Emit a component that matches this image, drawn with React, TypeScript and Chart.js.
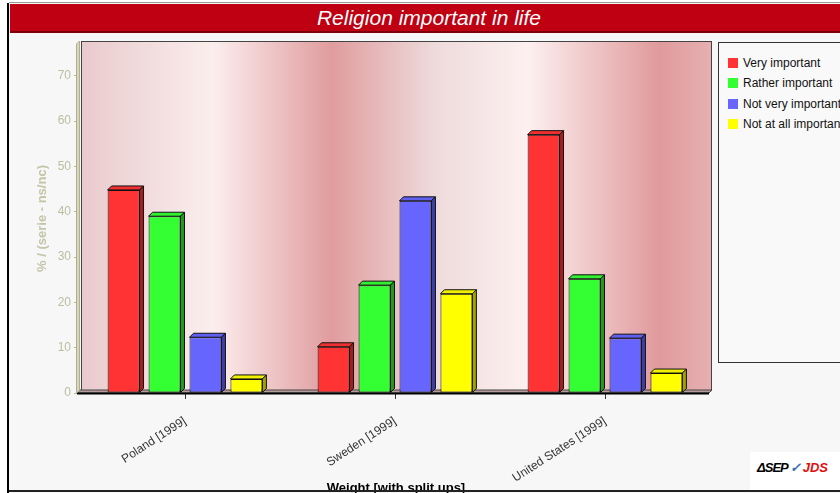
import React, { useEffect, useRef } from 'react';
import { Chart, registerables } from 'chart.js';

Chart.register(...registerables);

const categories = ['Poland [1999]', 'Sweden [1999]', 'United States [1999]'];
const seriesNames = ['Very important', 'Rather important', 'Not very important', 'Not at all important'];
const veryImportant = [44.8, 10.2, 57.0];
const ratherImportant = [39.0, 23.8, 25.2];
const notVeryImportant = [12.3, 42.4, 12.1];
const notAtAllImportant = [3.1, 21.9, 4.4];
const yMax = 77;
const yStep = 10;

const chartTitle = 'Religion important in life';
const yTitle = '% / (serie - ns/nc)';
const xTitle = 'Weight [with split ups]';

const faceColors = ['#FF3333', '#33FF33', '#6666FF', '#FFFF00'];
const sideColors = ['#A31E1E', '#1E9C1E', '#3E3EA6', '#A3A300'];
const topColors = ['#F03030', '#30F030', '#6060F0', '#F0F000'];

const FONT = '"Liberation Sans", Arial, Helvetica, sans-serif';

export default function App() {
  const ref = useRef<HTMLCanvasElement>(null);

  useEffect(() => {
    const canvas = ref.current!;
    const depth = 4;

    const backdrop = {
      id: 'backdrop',
      beforeDatasetsDraw(chart: any) {
        const { ctx, chartArea: a } = chart;
        ctx.save();
        const wl = a.left + 1, wr = a.right + 2, wt = a.top - 3, wb = a.bottom - 3;
        const g = ctx.createLinearGradient(wl, 0, wr, 0);
        g.addColorStop(0, '#EACACC');
        g.addColorStop(0.08, '#EFD8D9');
        g.addColorStop(0.21, '#FCEEEE');
        g.addColorStop(0.397, '#E09C9E');
        g.addColorStop(0.559, '#EEDADB');
        g.addColorStop(0.708, '#FDF0F0');
        g.addColorStop(0.916, '#E09A9C');
        g.addColorStop(1, '#E6B0B2');
        ctx.fillStyle = g;
        ctx.fillRect(wl, wt, wr - wl, wb - wt);
        ctx.strokeStyle = '#444';
        ctx.lineWidth = 1;
        ctx.strokeRect(wl + 0.5, wt + 0.5, wr - wl - 1, wb - wt);
        // floor
        ctx.beginPath();
        ctx.moveTo(a.left - 3, a.bottom);
        ctx.lineTo(a.left, a.bottom - 3);
        ctx.lineTo(a.right + 2, a.bottom - 3);
        ctx.lineTo(a.right - 1, a.bottom);
        ctx.closePath();
        ctx.fillStyle = '#B89C9C';
        ctx.fill();
        ctx.strokeStyle = '#444';
        ctx.stroke();
        ctx.beginPath();
        ctx.moveTo(a.left - 3, a.bottom + 0.5);
        ctx.lineTo(a.right - 1, a.bottom + 0.5);
        ctx.strokeStyle = '#000';
        ctx.lineWidth = 2;
        ctx.stroke();
        // y axis wall
        ctx.beginPath();
        ctx.moveTo(a.left - 3, a.bottom);
        ctx.lineTo(a.left - 3, a.top);
        ctx.lineTo(a.left, a.top - 3);
        ctx.lineTo(a.left, a.bottom - 3);
        ctx.closePath();
        ctx.fillStyle = '#D6D6BE';
        ctx.fill();
        ctx.strokeStyle = '#AFAF8C';
        ctx.lineWidth = 1;
        ctx.beginPath();
        ctx.moveTo(a.left - 3.5, a.bottom);
        ctx.lineTo(a.left - 3.5, a.top);
        ctx.lineTo(a.left - 0.5, a.top - 3);
        ctx.lineTo(a.left - 0.5, a.bottom - 3);
        ctx.stroke();
        ctx.restore();
      },
      afterDatasetsDraw(chart: any) {
        const { ctx } = chart;
        ctx.save();
        ctx.lineWidth = 1;
        ctx.strokeStyle = '#111';
        chart.data.datasets.forEach((ds: any, i: number) => {
          const meta = chart.getDatasetMeta(i);
          meta.data.forEach((bar: any) => {
            const { x, y, base, width } = bar.getProps(['x', 'y', 'base', 'width'], true);
            const l = x - width / 2, r = x + width / 2;
            ctx.beginPath();
            ctx.moveTo(l, y);
            ctx.lineTo(l + depth, y - depth);
            ctx.lineTo(r + depth, y - depth);
            ctx.lineTo(r, y);
            ctx.closePath();
            ctx.fillStyle = topColors[i];
            ctx.fill();
            ctx.stroke();
            ctx.beginPath();
            ctx.moveTo(r, y);
            ctx.lineTo(r + depth, y - depth);
            ctx.lineTo(r + depth, base - depth);
            ctx.lineTo(r, base);
            ctx.closePath();
            ctx.fillStyle = sideColors[i];
            ctx.fill();
            ctx.stroke();
          });
        });
        ctx.restore();
      },
    };

    const series = [veryImportant, ratherImportant, notVeryImportant, notAtAllImportant];

    const chart = new Chart(canvas, {
      type: 'bar',
      data: {
        labels: categories,
        datasets: series.map((values, i) => ({
          label: seriesNames[i],
          data: values,
          backgroundColor: faceColors[i],
          borderColor: '#111',
          borderWidth: 1,
          borderSkipped: false,
          categoryPercentage: 0.78,
          barPercentage: 0.78,
        })),
      },
      options: {
        responsive: false,
        animation: false,
        devicePixelRatio: 1,
        layout: { padding: { left: 0, top: 44, right: 130, bottom: 0 } },
        plugins: {
          legend: { display: false },
          title: { display: false },
          tooltip: { enabled: false },
        },
        scales: {
          x: {
            type: 'category',
            afterFit: (s: any) => { s.height = 100; },
            border: { display: false },
            grid: { display: true, offset: false, drawOnChartArea: false, drawTicks: true, tickLength: 6, color: '#333' },
            ticks: {
              minRotation: 33,
              maxRotation: 33,
              autoSkip: false,
              padding: 15,
              color: '#333',
              font: { family: FONT, size: 12 },
            },
          },
          y: {
            min: 0,
            max: yMax,
            afterFit: (s: any) => { s.width = 80; },
            border: { display: false },
            grid: { display: true, drawOnChartArea: false, drawTicks: true, tickLength: 6, color: '#B5B58F' },
            ticks: {
              stepSize: yStep,
              includeBounds: false,
              padding: 3,
              color: '#BDBDA0',
              font: { family: FONT, size: 12 },
            },
            title: {
              display: true,
              text: yTitle,
              color: '#C5C5A8',
              font: { family: FONT, size: 13, weight: 'bold' },
              padding: { top: 35, bottom: 0 },
            },
          },
        },
      },
      plugins: [backdrop],
    } as any);

    return () => chart.destroy();
  }, []);

  const legendRows = seriesNames.map((name, i) => (
    <div key={name} style={{ position: 'absolute', left: 728, top: 57 + i * 20.3, height: 12, display: 'flex', alignItems: 'center', whiteSpace: 'nowrap' }}>
      <div style={{ width: 10, height: 10, background: faceColors[i], marginRight: 5 }} />
      <span style={{ font: `12px ${FONT}`, color: '#111', lineHeight: '12px' }}>{name}</span>
    </div>
  ));

  return (
    <div style={{ position: 'fixed', left: 0, top: 0, width: 840, height: 493, overflow: 'hidden', background: '#fff' }}>
      <div style={{ position: 'absolute', left: 9, top: 3, width: 831, height: 490, background: '#F7F7F7' }} />
      <div style={{ position: 'absolute', left: 9, top: 2, width: 831, height: 1, background: '#999' }} />
      <div style={{ position: 'absolute', left: 7, top: 3, width: 2, height: 490, background: '#000' }} />
      <div style={{ position: 'absolute', left: 10, top: 4, width: 840, height: 27, background: '#BE0012', borderBottom: '2px solid #7E000A' }} />
      <div style={{ position: 'absolute', left: 10, top: 4, width: 838, height: 27, display: 'flex', alignItems: 'center', justifyContent: 'center', color: '#fff', font: `italic 21px ${FONT}` }}>{chartTitle}</div>
      <canvas ref={ref} width={840} height={493} style={{ position: 'absolute', left: 0, top: 0, width: 840, height: 493 }} />
      <div style={{ position: 'absolute', left: 718, top: 42, width: 140, height: 319, border: '1px solid #333', background: '#F9F9F9' }} />
      {legendRows}
      <div style={{ position: 'absolute', left: 296, width: 200, top: 481, textAlign: 'center', font: `bold 13px ${FONT}`, color: '#000', lineHeight: '14px' }}>{xTitle}</div>
      <div style={{ position: 'absolute', left: 750, top: 452, width: 90, height: 38, background: '#fff' }} />
      <div style={{ position: 'absolute', left: 757, top: 460, whiteSpace: 'nowrap', font: `italic bold 13px ${FONT}` }}>
        <span style={{ color: '#000', letterSpacing: -1 }}>ΔSEP</span>
        <span style={{ color: '#3A6FB0', margin: '0 2px' }}>✓</span>
        <span style={{ color: '#E01010' }}>JDS</span>
      </div>
      <div style={{ position: 'absolute', left: 9, top: 490, width: 831, height: 2, background: '#222' }} />
    </div>
  );
}
